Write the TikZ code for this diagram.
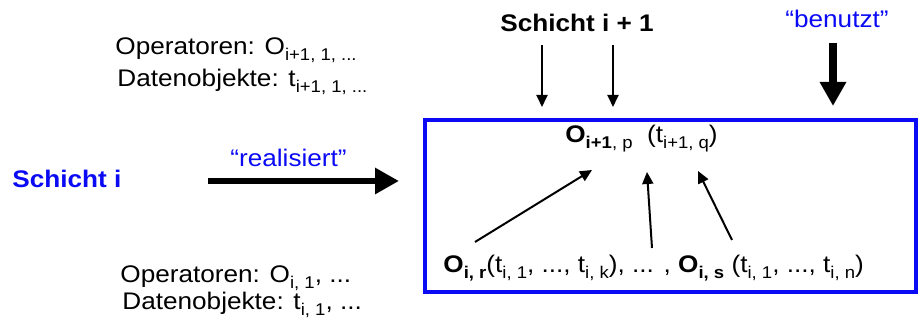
\documentclass[tikz,border=0pt]{standalone}
\usepackage{fontspec}
\setmainfont{Liberation Sans}[FakeStretch=1.09]
\usetikzlibrary{arrows.meta}
\definecolor{layerblue}{RGB}{10,10,245}
\newcommand{\sbs}[1]{\raisebox{-0.4ex}{\fontsize{8.5}{8.5}\selectfont #1}}

\begin{document}
\begin{tikzpicture}[x=0.5pt, y=-0.5pt, font=\fontsize{12}{14}\selectfont,
  txt/.style={anchor=base west, inner sep=0pt},
  thinarrow/.style={line width=1pt, -{Triangle[length=6pt, width=5.5pt]}},
  thickarrow/.style={line width=#1, -{Triangle[length=12pt, width=12.5pt]}}]
  \useasboundingbox (0,0) rectangle (923,324);
  % draw the layer box
  \draw[layerblue, line width=2pt] (425,120) rectangle (916,292);
  % draw labels of layer i+1
  \node[txt] (opup) at (115,55) {Operatoren: O\sbs{i+1, 1, ...}};
  \node[txt] (datup) at (117,87) {Datenobjekte: t\sbs{i+1, 1, ...}};
  \node[txt, font=\fontsize{12}{14}\selectfont\bfseries] (layerup) at (500,32) {Schicht i + 1};
  \node[txt, text=layerblue] (uses) at (785,28) {``benutzt''};
  % draw labels of layer i
  \node[txt, font=\fontsize{12}{14}\selectfont\bfseries, text=layerblue] (layer) at (12,188) {Schicht i};
  \node[txt, text=layerblue] (realizes) at (230,167) {``realisiert''};
  \node[txt] (oplow) at (120,283) {Operatoren: O\sbs{i, 1}, ...};
  \node[txt] (datlow) at (122,310) {Datenobjekte: t\sbs{i, 1}, ...};
  % draw operator texts in the box
  \node[txt] (optop) at (565,143) {\textbf{O\sbs{\bfseries i+1}}\sbs{, p}\ \ (t\sbs{i+1, q})};
  \node[txt] (oprow) at (443,273) {\textbf{O\sbs{\bfseries i, r}}(t\sbs{i, 1}, ..., t\sbs{i, k}), ... , \textbf{O\sbs{\bfseries i, s}} (t\sbs{i, 1}, ..., t\sbs{i, n})};
  % draw arrow end points
  \coordinate (down1a) at (542,45);  \coordinate (down1b) at (542,107);
  \coordinate (down2a) at (613,45);  \coordinate (down2b) at (613,107);
  \coordinate (usea) at (833,43);    \coordinate (useb) at (833,106);
  \coordinate (reala) at (208,181);  \coordinate (realb) at (399,181);
  \coordinate (call1a) at (475,242); \coordinate (call1b) at (592,170);
  \coordinate (call2a) at (652,248); \coordinate (call2b) at (647,172);
  \coordinate (call3a) at (732,240); \coordinate (call3b) at (698,171);
  % draw arrows
  \draw[thinarrow] (down1a) -- (down1b);
  \draw[thinarrow] (down2a) -- (down2b);
  \draw[thickarrow=4pt] (usea) -- (useb);
  \draw[thickarrow=3pt] (reala) -- (realb);
  \draw[thinarrow] (call1a) -- (call1b);
  \draw[thinarrow] (call2a) -- (call2b);
  \draw[thinarrow] (call3a) -- (call3b);
\end{tikzpicture}
\end{document}
